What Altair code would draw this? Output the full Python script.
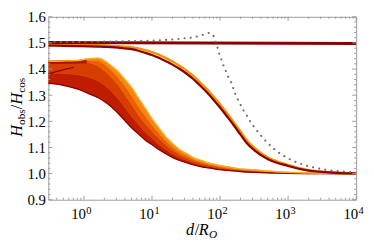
import altair as alt
import pandas as pd

# ---------------- data ----------------
grid = [0.3, 0.5, 0.8, 1.2, 1.6, 2, 2.5, 3.2, 4, 5, 6.3, 8, 10, 12.6, 16, 20, 25, 32, 40, 50,
        63, 80, 100, 130, 160, 200, 320, 500, 1000, 2000, 5000, 10000]
band0 = [1.346, 1.338, 1.324, 1.305, 1.291, 1.276, 1.257, 1.230, 1.203, 1.175, 1.152, 1.128, 1.111,
         1.092, 1.076, 1.062, 1.051, 1.042, 1.034, 1.028, 1.023, 1.019, 1.015, 1.012, 1.010, 1.008,
         1.005, 1.003, 1.001, 1.000, 1.000, 1.000]
band1 = [1.385, 1.383, 1.378, 1.368, 1.355, 1.338, 1.316, 1.285, 1.252, 1.220, 1.188, 1.158, 1.135,
         1.112, 1.092, 1.076, 1.062, 1.051, 1.041, 1.034, 1.028, 1.023, 1.019, 1.015, 1.013, 1.010,
         1.007, 1.004, 1.002, 1.000, 1.000, 1.000]
band2 = [1.428, 1.429, 1.429, 1.424, 1.412, 1.394, 1.370, 1.338, 1.302, 1.265, 1.225, 1.190, 1.162,
         1.135, 1.110, 1.090, 1.073, 1.060, 1.049, 1.041, 1.034, 1.028, 1.023, 1.019, 1.016, 1.013,
         1.009, 1.006, 1.003, 1.001, 1.000, 1.000]
band3 = [1.429, 1.430, 1.431, 1.434, 1.432, 1.418, 1.396, 1.368, 1.335, 1.300, 1.258, 1.220, 1.186,
         1.155, 1.125, 1.102, 1.083, 1.068, 1.055, 1.046, 1.038, 1.032, 1.027, 1.022, 1.019, 1.015,
         1.012, 1.008, 1.004, 1.002, 1.000, 1.000]
band4 = [1.430, 1.431, 1.433, 1.440, 1.442, 1.432, 1.413, 1.390, 1.360, 1.330, 1.290, 1.250, 1.210,
         1.175, 1.140, 1.115, 1.093, 1.077, 1.062, 1.052, 1.043, 1.036, 1.031, 1.026, 1.022, 1.018,
         1.015, 1.010, 1.005, 1.002, 1.001, 1.000]

# dark curve edges visible at the upper left of the band
topdark_x = [0.3, 0.5, 0.8, 1.1]
topdark_v = [1.426, 1.427, 1.428, 1.429]
inner_x = [0.3, 0.45, 0.7]
inner_v = [1.382, 1.394, 1.406]

mid_x = [0.3, 0.5, 0.8, 1.2, 1.6, 2, 2.5, 3.2, 4, 5, 6.3, 8, 10, 12.6, 16, 20, 25, 32, 40, 50,
         63, 80, 100, 130, 160, 200, 250, 320, 500, 1000, 2000, 5000, 10000]
mid_dark = [1.490, 1.489, 1.488, 1.487, 1.486, 1.485, 1.484, 1.482, 1.479, 1.476, 1.470, 1.462,
            1.454, 1.443, 1.430, 1.417, 1.402, 1.383, 1.363, 1.339, 1.313, 1.283, 1.253, 1.215,
            1.184, 1.149, 1.115, 1.089, 1.056, 1.029, 1.011, 1.003, 1.001]
mid_orange = [1.495, 1.494, 1.493, 1.492, 1.491, 1.490, 1.489, 1.488, 1.486, 1.484, 1.479, 1.472,
              1.465, 1.455, 1.442, 1.429, 1.414, 1.395, 1.375, 1.351, 1.325, 1.295, 1.265, 1.227,
              1.196, 1.161, 1.126, 1.098, 1.062, 1.033, 1.013, 1.004, 1.001]

flat_x = [0.3, 10000]
flat_v = [1.502, 1.498]

dot_x = [0.3, 1, 3, 10, 20, 24.5, 30, 37, 46, 57, 70, 79, 86, 91, 96, 104, 112, 121, 132, 146,
         156, 167, 181, 202, 223, 252, 281, 314, 364, 415, 480, 561, 662, 789, 955, 1148, 1403,
         1714, 2143, 2630, 3300, 4130, 5210, 6490, 8300, 10000]
dot_v = [1.503, 1.504, 1.506, 1.509, 1.513, 1.515, 1.518, 1.520, 1.525, 1.531, 1.539, 1.531, 1.507,
         1.486, 1.463, 1.439, 1.415, 1.394, 1.370, 1.349, 1.328, 1.306, 1.285, 1.261, 1.240, 1.219,
         1.197, 1.179, 1.158, 1.140, 1.122, 1.105, 1.088, 1.074, 1.061, 1.050, 1.041, 1.033, 1.026,
         1.021, 1.016, 1.0126, 1.010, 1.008, 1.0053, 1.004]

y_major = [0.9, 1.0, 1.1, 1.2, 1.3, 1.4, 1.5, 1.6]
y_minor = [round(0.9 + 0.02 * i, 2) for i in range(36) if i % 5 != 0]
x_major = [1, 10, 100, 1000, 10000]
x_exp = ["0", "1", "2", "3", "4"]
x_minor = [0.4, 0.5, 0.6, 0.7, 0.8, 0.9] + [m * d for d in (1, 10, 100, 1000) for m in range(2, 10)]

# ---------------- styling ----------------
W, H = 313, 186
FONT = "Liberation Serif"
FRAME = "#9a9a9a"
strip_colors = ["#c01c00", "#d63e00", "#ea6000", "#f6860f"]

xs = alt.Scale(type="log", domain=[0.3, 10000], nice=False)
ys = alt.Scale(domain=[0.9, 1.6], nice=False, zero=False)
yaxis = alt.Axis(values=y_major, format=".1f", ticks=False, domain=False, grid=False,
                 labelFont=FONT, labelFontSize=15, labelPadding=3, labelColor="black",
                 title=None)


def X(f):
    return alt.X(f, type="quantitative", scale=xs, axis=None)


def Y(f):
    return alt.Y(f, type="quantitative", scale=ys, axis=yaxis)


band = pd.DataFrame({"x": grid, "c0": band0, "c1": band1, "c2": band2, "c3": band3, "c4": band4})
mid = pd.DataFrame({"x": mid_x, "d": mid_dark, "o": mid_orange})
flat = pd.DataFrame({"x": flat_x, "v": flat_v})
dots = pd.DataFrame({"x": dot_x, "v": dot_v})
topdark = pd.DataFrame({"x": topdark_x, "v": topdark_v})
inner = pd.DataFrame({"x": inner_x, "v": inner_v})

layers = []
for i, col in enumerate(strip_colors):
    layers.append(
        alt.Chart(band).mark_area(color=col, stroke=col, strokeWidth=0.6,
                                  interpolate="monotone", clip=True)
        .encode(x=X("x"), y=Y(f"c{i}"), y2=alt.Y2(f"c{i+1}"))
    )
layers.append(alt.Chart(topdark).mark_line(color="#a00c00", strokeWidth=3.5, opacity=0.85,
                                           interpolate="monotone", clip=True)
              .encode(x=X("x"), y=Y("v")))
layers.append(alt.Chart(inner).mark_line(color="#8b0000", strokeWidth=1.3,
                                         interpolate="monotone", clip=True)
              .encode(x=X("x"), y=Y("v")))
layers.append(alt.Chart(band).mark_line(color="#8b0000", strokeWidth=1.3,
                                        interpolate="monotone", clip=True)
              .encode(x=X("x"), y=Y("c0")))
layers.append(alt.Chart(band).mark_line(color="#ffae1a", strokeWidth=1.4,
                                        interpolate="monotone", clip=True)
              .encode(x=X("x"), y=Y("c4")))
layers.append(alt.Chart(mid).mark_line(color="#f39200", strokeWidth=2.4,
                                       interpolate="monotone", clip=True)
              .encode(x=X("x"), y=Y("o")))
layers.append(alt.Chart(mid).mark_line(color="#8b0000", strokeWidth=2.3,
                                       interpolate="monotone", clip=True)
              .encode(x=X("x"), y=Y("d")))
layers.append(alt.Chart(flat).mark_line(color="#8b0000", strokeWidth=3, clip=True)
              .encode(x=X("x"), y=Y("v")))
layers.append(alt.Chart(dots).mark_line(color="#6e6e6e", strokeWidth=2.1, strokeDash=[0.1, 6.2],
                                        strokeCap="round", clip=True)
              .encode(x=X("x"), y=Y("v")))

# tick marks (inside the frame, on all four sides)
xt_major = pd.DataFrame({"v": x_major})
xt_minor = pd.DataFrame({"v": x_minor})
yt_major = pd.DataFrame({"v": y_major})
yt_minor = pd.DataFrame({"v": y_minor})
for df, ln in ((xt_major, 4), (xt_minor, 2)):
    layers.append(alt.Chart(df).mark_rule(color=FRAME, strokeWidth=1)
                  .encode(x=X("v"), y=alt.value(H), y2=alt.value(H - ln)))
    layers.append(alt.Chart(df).mark_rule(color=FRAME, strokeWidth=1)
                  .encode(x=X("v"), y=alt.value(0), y2=alt.value(ln)))
for df, ln in ((yt_major, 4), (yt_minor, 2)):
    layers.append(alt.Chart(df).mark_rule(color=FRAME, strokeWidth=1)
                  .encode(y=Y("v"), x=alt.value(0), x2=alt.value(ln)))
    layers.append(alt.Chart(df).mark_rule(color=FRAME, strokeWidth=1)
                  .encode(y=Y("v"), x=alt.value(W), x2=alt.value(W - ln)))

# x tick labels 10^n
xl = pd.DataFrame({"v": x_major, "e": x_exp})
layers.append(alt.Chart(xl).mark_text(text="10", align="right", baseline="alphabetic", dx=2,
                                      font=FONT, fontSize=15, color="black")
              .encode(x=X("v"), y=alt.value(H + 20)))
layers.append(alt.Chart(xl).mark_text(align="left", baseline="alphabetic", dx=2.5,
                                      font=FONT, fontSize=10.5, color="black")
              .encode(x=X("v"), y=alt.value(H + 14), text="e:N"))


# axis titles
def txt(s, x, y, size, italic=False, angle=0):
    return alt.Chart(pd.DataFrame({"t": [s]})).mark_text(
        align="left", baseline="alphabetic", font=FONT, fontSize=size,
        fontStyle="italic" if italic else "normal", angle=angle, color="black"
    ).encode(x=alt.value(x), y=alt.value(y), text="t:N")


# x title: d/R_O
layers += [
    txt("d", 140, 222, 16.5, True),
    txt("/", 148.8, 222, 16.5),
    txt("R", 153, 222, 16.5, True),
    txt("O", 163.3, 224.5, 11.5, True),
]
# y title: H_obs/H_cos (rotated)
bx, sx = -27, -24
layers += [
    txt("H", bx, 122.0, 16.5, True, 270),
    txt("obs", sx, 110.0, 11.5, False, 270),
    txt("/", bx, 94.0, 16.5, False, 270),
    txt("H", bx, 89.3, 16.5, True, 270),
    txt("cos", sx, 77.3, 11.5, False, 270),
]

chart = alt.layer(*layers).properties(
    width=W, height=H,
    autosize=alt.AutoSizeParams(type="none"),
    padding={"left": 41, "top": 7, "right": 10, "bottom": 39},
).configure_view(stroke=FRAME, strokeWidth=1)

chart.save("out.html", embed_options={"renderer": "svg", "actions": False})
